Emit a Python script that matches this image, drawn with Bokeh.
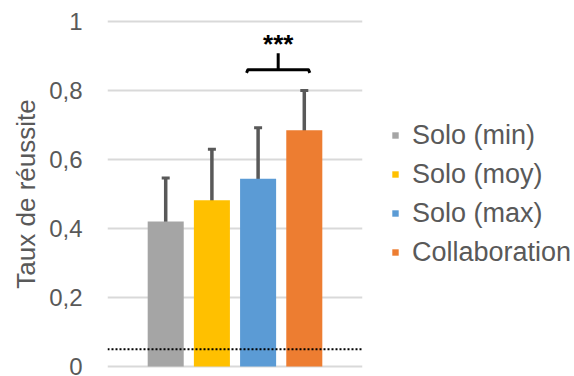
from bokeh.plotting import figure
from bokeh.models import (ColumnDataSource, FactorRange, Range1d, Whisker, TeeHead, Span,
                          FixedTicker, Legend, LegendItem)
from bokeh.core.properties import value
from bokeh.embed import file_html
from bokeh.resources import INLINE

# ---- data ----
groups = ["Solo (min)", "Solo (moy)", "Solo (max)", "Collaboration"]
rates = [0.420, 0.482, 0.544, 0.685]
err_low = [0.319, 0.366, 0.427, 0.577]
err_high = [0.546, 0.630, 0.692, 0.800]
colors = ["#a5a5a5", "#ffc000", "#5b9bd5", "#ed7d31"]
y_ticks = [0, 0.2, 0.4, 0.6, 0.8, 1]
y_tick_labels = ["0", "0,2", "0,4", "0,6", "0,8", "1"]
chance_level = 0.05
sig_pair = ["Solo (max)", "Collaboration"]
sig_label = "***"
sig_bracket_y = 0.86
sig_stem_top = 0.908
sig_label_y = 0.935

# ---- style ----
FONT = "Liberation Sans"
GREY = "#595959"

src = ColumnDataSource(dict(g=groups, r=rates, lo=err_low, hi=err_high, c=colors))

p = figure(frame_width=255, frame_height=359,
           x_range=FactorRange(*groups, range_padding=0.38),
           y_range=Range1d(-0.02, 1.02),
           output_backend="svg", toolbar_location=None, x_axis_location=None,
           min_border_left=107, min_border_right=212, min_border_top=14, min_border_bottom=3)
p.outline_line_color = None
p.background_fill_color = "white"
p.border_fill_color = "white"

# grid
p.xgrid.visible = False
p.ygrid.ticker = FixedTicker(ticks=y_ticks)
p.ygrid.grid_line_color = "#d9d9d9"
p.ygrid.grid_line_width = 2

# y axis
ax = p.yaxis[0]
ax.ticker = FixedTicker(ticks=y_ticks)
ax.major_label_overrides = {t: l for t, l in zip(y_ticks, y_tick_labels)}
ax.axis_line_color = None
ax.major_tick_line_color = None
ax.minor_tick_line_color = None
ax.major_tick_out = 0
ax.major_tick_in = 0
ax.major_label_standoff = 25
ax.major_label_text_font = FONT
ax.major_label_text_font_size = "24px"
ax.major_label_text_color = GREY
ax.axis_label = "Taux de réussite"
ax.axis_label_text_font = FONT
ax.axis_label_text_font_size = "26px"
ax.axis_label_text_font_style = "normal"
ax.axis_label_text_color = GREY
ax.axis_label_standoff = 5

# bars
bars = p.vbar(x="g", top="r", width=0.78, source=src, fill_color="c", line_color=None)

# error bars
wh = Whisker(base="g", upper="hi", lower="lo", source=src,
             line_color=GREY, line_width=3.5,
             upper_head=TeeHead(size=8, line_color=GREY, line_width=3),
             lower_head=TeeHead(size=8, line_color=GREY, line_width=3))
p.add_layout(wh)

# chance level
p.add_layout(Span(location=chance_level, dimension="width", line_color="black",
                  line_width=2, line_dash="2 2"))

# significance bracket
a, b = sig_pair
bsrc = ColumnDataSource(dict(
    x=[(a, -0.25), (a, -0.22), (b, 0.09), (b, 0.12)],
    y=[sig_bracket_y - 0.009, sig_bracket_y, sig_bracket_y, sig_bracket_y - 0.009]))
p.line(x="x", y="y", source=bsrc, line_color="black", line_width=3, line_join="round")
mid = (a, 0.435)
ssrc = ColumnDataSource(dict(x=[mid, mid], y=[sig_bracket_y, sig_stem_top]))
p.line(x="x", y="y", source=ssrc, line_color="black", line_width=3)
tsrc = ColumnDataSource(dict(x=[mid], y=[sig_label_y], t=[sig_label]))
p.text(x="x", y="y", text="t", source=tsrc, text_font=value(FONT), text_font_size="26px",
       text_font_style="bold", text_color="black", text_align="center",
       text_baseline="alphabetic")

# legend in the right panel; an (empty) left title provides the gap to the frame
legend = Legend(items=[LegendItem(label=g, renderers=[bars], index=i) for i, g in enumerate(groups)],
                location="center_left", margin=2, padding=0, spacing=8,
                title=" ", title_location="left", title_text_font_size="1px", title_standoff=26,
                glyph_width=8, glyph_height=8, label_standoff=13,
                label_text_font=FONT, label_text_font_size="27px", label_text_color=GREY,
                border_line_color=None, background_fill_alpha=0)
p.add_layout(legend, "right")

open("out.html", "w").write(file_html(p, INLINE))
